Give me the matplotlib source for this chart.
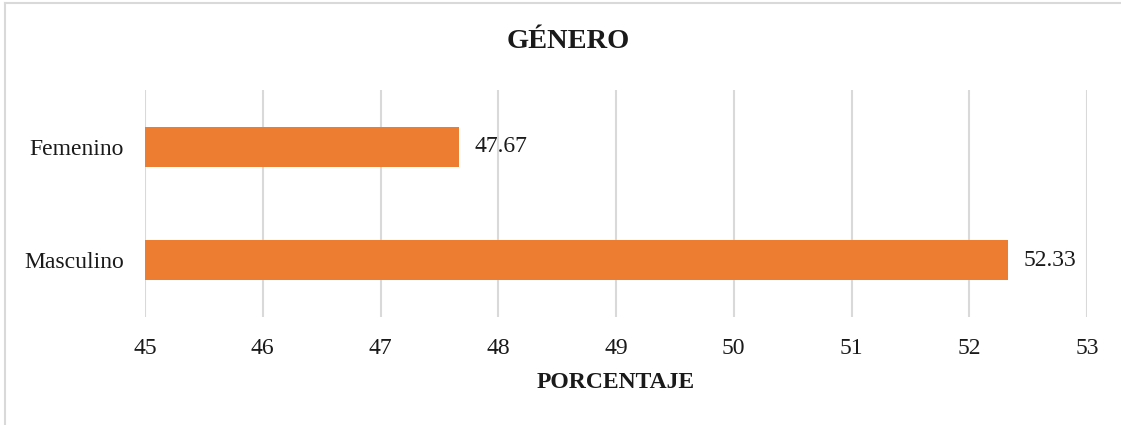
import matplotlib.pyplot as plt
from matplotlib.lines import Line2D

categorias = ["Masculino", "Femenino"]
porcentajes = [52.33, 47.67]
ticks_x = [45, 46, 47, 48, 49, 50, 51, 52, 53]

plt.rcParams['font.family'] = ['Liberation Serif', 'DejaVu Serif']

fig = plt.figure(figsize=(11.21, 4.25), dpi=100)
ax = fig.add_axes([145 / 1121, 1 - 317 / 425, (1087 - 145) / 1121, (317 - 90) / 425])

naranja = '#ED7D31'
barras = ax.barh(categorias, [p - 45 for p in porcentajes], left=45, height=0.35,
                 color=naranja, zorder=3)
for b, p in zip(barras, porcentajes):
    ax.text(p + 0.13, b.get_y() + b.get_height() / 2, f"{p:.2f}",
            va='center', ha='left', fontsize=17, color='#1a1a1a')

ax.set_xlim(45, 53)
ax.set_ylim(-0.5, 1.5)
ax.set_xticks(ticks_x)
ax.tick_params(axis='x', length=0, labelsize=17, pad=15, colors='#1a1a1a')
ax.tick_params(axis='y', length=0, labelsize=17, pad=15, colors='#1a1a1a')
ax.grid(axis='x', color='#d9d9d9', linewidth=1.5, zorder=0)
for s in ax.spines.values():
    s.set_visible(False)

fig.text(568 / 1121, 1 - 41 / 425, "GÉNERO", ha='center', va='center',
         fontsize=20.5, fontweight='bold', color='#1a1a1a')
fig.text(616 / 1121, 1 - 382 / 425, "PORCENTAJE", ha='center', va='center',
         fontsize=17, fontweight='bold', color='#1a1a1a')

# marco del gráfico (solo borde superior e izquierdo)
borde = dict(transform=fig.transFigure, color='#d9d9d9', linewidth=1.5)
fig.add_artist(Line2D([5 / 1121, 5 / 1121], [0, 1 - 3 / 425], **borde))
fig.add_artist(Line2D([5 / 1121, 1], [1 - 3 / 425, 1 - 3 / 425], **borde))

fig.savefig('out.png', dpi=100)
